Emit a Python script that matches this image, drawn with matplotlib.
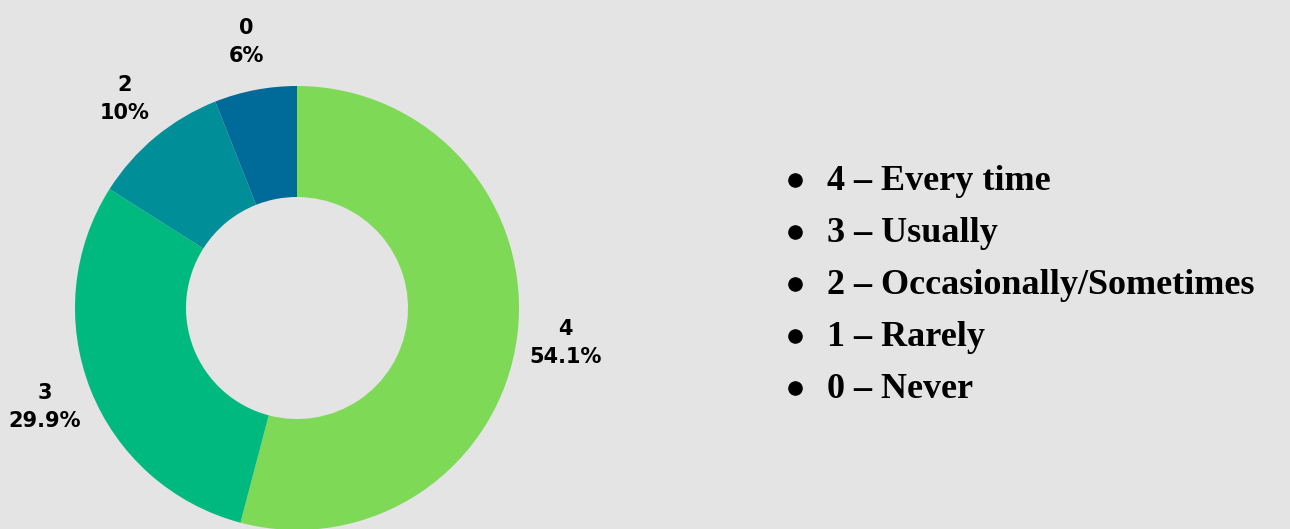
import matplotlib
matplotlib.use("Agg")
import matplotlib.pyplot as plt

categories = ['4', '3', '2', '1', '0']
values = [54.1, 29.9, 10, 0, 6]
pct_labels = ['54.1%', '29.9%', '10%', '0%', '6%']
colors = ['#7ed957', '#00b97e', '#008f98', '#00779a', '#006a98']
legend_items = ['4 – Every time', '3 – Usually', '2 – Occasionally/Sometimes',
                '1 – Rarely', '0 – Never']

W, H = 1290, 529
bg = '#e4e4e4'
fig = plt.figure(figsize=(W / 100, H / 100), dpi=100, facecolor=bg)

cx, cy, R = 297, 308, 222
ax = fig.add_axes([(cx - R) / W, (H - cy - R) / H, 2 * R / W, 2 * R / H])
ax.set_facecolor(bg)

vals = [v for v in values if v > 0]
labs = [f"{c}\n{p}" for c, v, p in zip(categories, values, pct_labels) if v > 0]
cols = [col for col, v in zip(colors, values) if v > 0]

wedges, texts = ax.pie(vals, labels=labs, colors=cols, startangle=90, counterclock=False,
                       radius=1.0, labeldistance=1.22,
                       wedgeprops=dict(width=0.5, linewidth=0),
                       textprops=dict(fontsize=15, fontweight='bold', family='DejaVu Sans',
                                      ha='center', va='center', linespacing=1.5, color='black'))
for t in texts:
    t.set_ha('center')
ax.set_xlim(-1, 1)
ax.set_ylim(-1, 1)
ax.set_aspect('equal')
ax.axis('off')

# legend list
lax = fig.add_axes([0, 0, 1, 1], facecolor='none')
lax.set_xlim(0, W)
lax.set_ylim(H, 0)
lax.axis('off')
base0, dy = 190, 52
for i, item in enumerate(legend_items):
    yb = base0 + i * dy
    lax.plot([795], [yb - 10], 'o', color='black', markersize=9.5)
    lax.text(827, yb, item, fontsize=26, fontweight='bold', family='Liberation Serif',
             ha='left', va='baseline', color='black')

fig.savefig('out.png', dpi=100, facecolor=bg)
